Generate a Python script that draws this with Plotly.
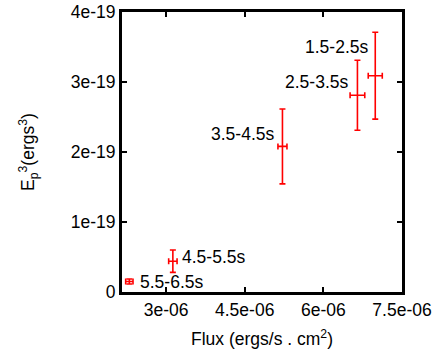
import plotly.graph_objects as go

labels = ["1.5-2.5s", "2.5-3.5s", "3.5-4.5s", "4.5-5.5s", "5.5-6.5s"]
flux = [6.99e-6, 6.65e-6, 5.22e-6, 3.13e-6, 2.30e-6]
flux_err = [0.134e-6, 0.14e-6, 0.086e-6, 0.08e-6, 0.07e-6]
ep3 = [3.09e-19, 2.81e-19, 2.08e-19, 0.44e-19, 0.15e-19]
ep3_err = [0.62e-19, 0.50e-19, 0.535e-19, 0.16e-19, 0.035e-19]

x_ticks = [3e-6, 4.5e-6, 6e-6, 7.5e-6]
x_ticktext = ["3e-06", "4.5e-06", "6e-06", "7.5e-06"]
y_ticks = [0, 1e-19, 2e-19, 3e-19, 4e-19]
y_ticktext = ["0", "1e-19", "2e-19", "3e-19", "4e-19"]

# label placement: (xanchor, xshift, yshift)
label_pos = [("right", -5, 29), ("right", -7, 13), ("right", -6, 12),
             ("left", 7, 4), ("left", 9, 0)]

FONT = "Liberation Sans, Arial, sans-serif"
FS = 17.5
red = "#ff0000"

fig = go.Figure()
fig.add_trace(go.Scatter(
    x=flux, y=ep3, mode="markers",
    marker=dict(size=1, color=red),
    error_x=dict(type="data", array=flux_err, color=red, thickness=1.6, width=3),
    error_y=dict(type="data", array=ep3_err, color=red, thickness=1.6, width=3),
    showlegend=False, hoverinfo="skip",
))

for lab, xv, yv, (xa, xs, ys) in zip(labels, flux, ep3, label_pos):
    fig.add_annotation(x=xv, y=yv, xref="x", yref="y", text=lab, showarrow=False,
                       xanchor=xa, yanchor="middle", xshift=xs, yshift=ys,
                       font=dict(family=FONT, size=FS, color="black"))

fig.add_annotation(x=0.5, y=0, xref="paper", yref="paper", xanchor="center",
                   yanchor="middle", yshift=-46, showarrow=False,
                   text="Flux (ergs/s . cm<sup>2</sup>)",
                   font=dict(family=FONT, size=FS, color="black"))
fig.add_annotation(x=0, y=0.5, xref="paper", yref="paper", xanchor="center",
                   yanchor="middle", xshift=-94, showarrow=False, textangle=-90,
                   text="E<sub>p</sub><sup>3</sup>(ergs<sup>3</sup>)",
                   font=dict(family=FONT, size=FS, color="black"))

axis_common = dict(showline=True, linewidth=3, linecolor="black", mirror="allticks",
                   ticks="inside", ticklen=5, tickwidth=2, tickcolor="black",
                   showgrid=False, zeroline=False, automargin=False,
                   tickfont=dict(family=FONT, size=FS, color="black"))

fig.update_xaxes(range=[2.16e-6, 7.5e-6], tickvals=x_ticks, ticktext=x_ticktext,
                 **axis_common)
fig.update_yaxes(range=[0, 4e-19], tickvals=y_ticks, ticktext=y_ticktext,
                 **axis_common)

fig.update_layout(width=443, height=354, margin=dict(l=122, r=41, t=12, b=62),
                  plot_bgcolor="white", paper_bgcolor="white",
                  font=dict(family=FONT, size=FS, color="black"))

fig.write_html("out.html", config={"displayModeBar": False},
               post_script="document.body.style.margin='0';")
